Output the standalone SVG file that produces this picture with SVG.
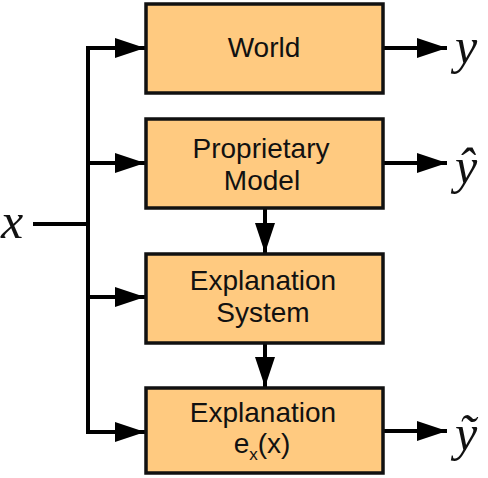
<svg xmlns="http://www.w3.org/2000/svg" width="488" height="478" viewBox="0 0 488 478">
<defs>
<marker id="ah" viewBox="0 0 30 20" refX="30" refY="10" markerWidth="30" markerHeight="20" markerUnits="userSpaceOnUse" orient="auto">
<path d="M0,0 L30,10 L0,20 Z" fill="#000"/>
</marker>
</defs>
<style>
.box{fill:#FFCA80;stroke:#111;stroke-width:3.5}
.lbl{font-family:"Liberation Sans",Arial,sans-serif;font-size:28px;fill:#111;text-anchor:middle}
.math{font-family:"Liberation Serif","DejaVu Serif",serif;font-style:italic;font-size:50px;fill:#111}
.ln{stroke:#000;stroke-width:4;fill:none}
</style>
<rect width="488" height="478" fill="#fff"/>
<g id="connectors">
<path class="ln" d="M33,224 H88"/>
<path class="ln" d="M88,48 V432"/>
<path class="ln" d="M86,48 H145" marker-end="url(#ah)"/>
<path class="ln" d="M88,163 H145" marker-end="url(#ah)"/>
<path class="ln" d="M88,297 H145" marker-end="url(#ah)"/>
<path class="ln" d="M86,432 H145" marker-end="url(#ah)"/>
<path class="ln" d="M383,48 H447" marker-end="url(#ah)"/>
<path class="ln" d="M383,163 H447" marker-end="url(#ah)"/>
<path class="ln" d="M383,431 H447" marker-end="url(#ah)"/>
<path class="ln" d="M265,208 V253" marker-end="url(#ah)"/>
<path class="ln" d="M265,343 V387" marker-end="url(#ah)"/>
</g>
<g id="world">
<rect class="box" x="146" y="4" width="237" height="89"/>
<text class="lbl" x="264" y="57">World</text>
</g>
<g id="model">
<rect class="box" x="146" y="119" width="237" height="89"/>
<text class="lbl" x="261" y="158">Proprietary</text>
<text class="lbl" x="262" y="190">Model</text>
</g>
<g id="explsys">
<rect class="box" x="146" y="254" width="237" height="89"/>
<text class="lbl" x="263" y="290">Explanation</text>
<text class="lbl" x="263" y="322">System</text>
</g>
<g id="expl">
<rect class="box" x="146" y="388" width="237" height="85"/>
<text class="lbl" x="263" y="422">Explanation</text>
<text class="lbl" x="262" y="453">e<tspan font-size="17" dy="7">x</tspan><tspan dy="-7">(x)</tspan></text>
</g>
<g id="labels">
<text class="math" x="1" y="238">x</text>
<text class="math" x="455" y="63">y</text>
<text class="math" x="455" y="183">ŷ</text>
<text class="math" x="455" y="450">ỹ</text>
</g>
</svg>
